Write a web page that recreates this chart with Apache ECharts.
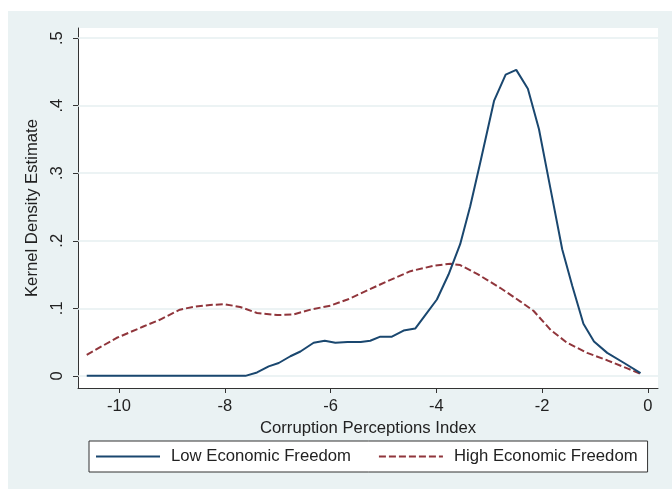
<!DOCTYPE html>
<html>
<head>
<meta charset="utf-8">
<script src="https://cdn.jsdelivr.net/npm/echarts@6/dist/echarts.min.js"></script>
<style>
html,body{margin:0;padding:0;background:#fff;}
#wrap{position:relative;width:672px;height:489px;background:#fff;overflow:hidden;}
#bg{position:absolute;left:8px;top:11px;right:0;bottom:0;background:#eaf2f3;}
#chart{position:absolute;left:0;top:0;width:672px;height:489px;}
</style>
</head>
<body>
<div id="wrap"><div id="bg"></div><div id="chart"></div></div>
<script>
const xTicks = [-10, -8, -6, -4, -2, 0];
const yTicks = [0, 0.1, 0.2, 0.3, 0.4, 0.5];
const yTickLabels = ['0', '.1', '.2', '.3', '.4', '.5'];

const lowX = [-10.61, -9.5, -8.5, -7.61, -7.39, -7.17, -6.98, -6.76, -6.57, -6.32, -6.11, -5.91, -5.68, -5.43, -5.25, -5.06, -4.84, -4.62, -4.40, -4.21, -3.99, -3.77, -3.55, -3.36, -3.17, -2.91, -2.69, -2.49, -2.27, -2.06, -1.84, -1.62, -1.43, -1.22, -1.02, -0.77, -0.45, -0.14];
const lowY = [0, 0, 0, 0, 0.005, 0.014, 0.019, 0.029, 0.036, 0.049, 0.052, 0.049, 0.050, 0.050, 0.052, 0.058, 0.058, 0.067, 0.070, 0.090, 0.113, 0.150, 0.195, 0.251, 0.316, 0.407, 0.446, 0.453, 0.425, 0.365, 0.276, 0.187, 0.133, 0.077, 0.051, 0.034, 0.019, 0.004];

const highX = [-10.61, -10.05, -9.54, -9.23, -8.85, -8.6, -8.28, -8.0, -7.71, -7.39, -7.01, -6.70, -6.38, -6.0, -5.68, -5.43, -4.93, -4.49, -4.05, -3.73, -3.55, -3.23, -2.79, -2.41, -2.16, -1.84, -1.53, -1.15, -0.77, -0.39, -0.14];
const highY = [0.031, 0.056, 0.073, 0.083, 0.098, 0.102, 0.105, 0.106, 0.102, 0.093, 0.090, 0.091, 0.098, 0.104, 0.113, 0.122, 0.140, 0.155, 0.163, 0.166, 0.164, 0.151, 0.130, 0.110, 0.096, 0.068, 0.049, 0.034, 0.023, 0.011, 0.003];

const FONT = '"Liberation Sans", Arial, Helvetica, sans-serif';
const AXC = '#333';
const TXT = '#222';

const chart = echarts.init(document.getElementById('chart'), null, {renderer: 'canvas'});
chart.setOption({
  animation: false,
  textStyle: {fontFamily: FONT},
  grid: {left: 78, top: 28, right: 14, bottom: 101, show: true, backgroundColor: '#ffffff', borderWidth: 0},
  xAxis: {
    type: 'value', min: -10.775, max: 0.19,
    name: 'Corruption Perceptions Index', nameLocation: 'middle', nameGap: 26,
    nameTextStyle: {fontSize: 16.7, color: TXT, fontFamily: FONT},
    axisLine: {show: true, onZero: false, lineStyle: {color: AXC, width: 1}},
    axisTick: {show: true, customValues: xTicks, length: 5, lineStyle: {color: AXC}},
    axisLabel: {customValues: xTicks, fontSize: 16.5, color: TXT, margin: 10, fontFamily: FONT,
      formatter: v => String(Math.round(v))},
    splitLine: {show: false}
  },
  yAxis: {
    type: 'value', min: -0.018, max: 0.515,
    name: 'Kernel Density Estimate', nameLocation: 'middle', nameGap: 35,
    nameTextStyle: {fontSize: 16.7, color: TXT, fontFamily: FONT},
    axisLine: {show: true, onZero: false, lineStyle: {color: AXC, width: 1}},
    axisTick: {show: true, customValues: yTicks, length: 5, lineStyle: {color: AXC}},
    axisLabel: {customValues: yTicks, rotate: 90, fontSize: 16.5, color: TXT, margin: 12, fontFamily: FONT,
      formatter: v => yTickLabels[yTicks.findIndex(t => Math.abs(t - v) < 1e-6)] || ''},
    splitLine: {show: false}
  },
  legend: {
    show: true,
    left: 89, top: 441,
    orient: 'horizontal',
    backgroundColor: '#ffffff', borderColor: '#333', borderWidth: 1,
    padding: [7, 10, 7, 6],
    itemWidth: 64, itemHeight: 16, itemGap: 27,
    itemStyle: {opacity: 0},
    formatter: name => '{t|' + name + '}',
    textStyle: {fontSize: 16.7, color: TXT, fontFamily: FONT,
      rich: {t: {fontSize: 16.7, color: TXT, fontFamily: FONT, padding: [0, 0, 0, 6]}}},
    data: ['Low Economic Freedom', 'High Economic Freedom']
  },
  series: [
    {
      name: 'Low Economic Freedom', type: 'line', showSymbol: false, symbol: 'none',
      data: lowX.map((x, i) => [x, lowY[i]]),
      lineStyle: {color: '#1a476f', width: 2},
      itemStyle: {color: '#1a476f'},
      z: 3,
      markLine: {
        silent: true, symbol: 'none', label: {show: false},
        lineStyle: {color: '#e6eff1', width: 1.5, type: 'solid'},
        z: 1,
        data: yTicks.map(v => ({yAxis: v}))
      }
    },
    {
      name: 'High Economic Freedom', type: 'line', showSymbol: false, symbol: 'none',
      data: highX.map((x, i) => [x, highY[i]]),
      lineStyle: {color: '#90353b', width: 2, type: [7, 3]},
      itemStyle: {color: '#90353b'},
      z: 2
    }
  ]
});
</script>
</body>
</html>
